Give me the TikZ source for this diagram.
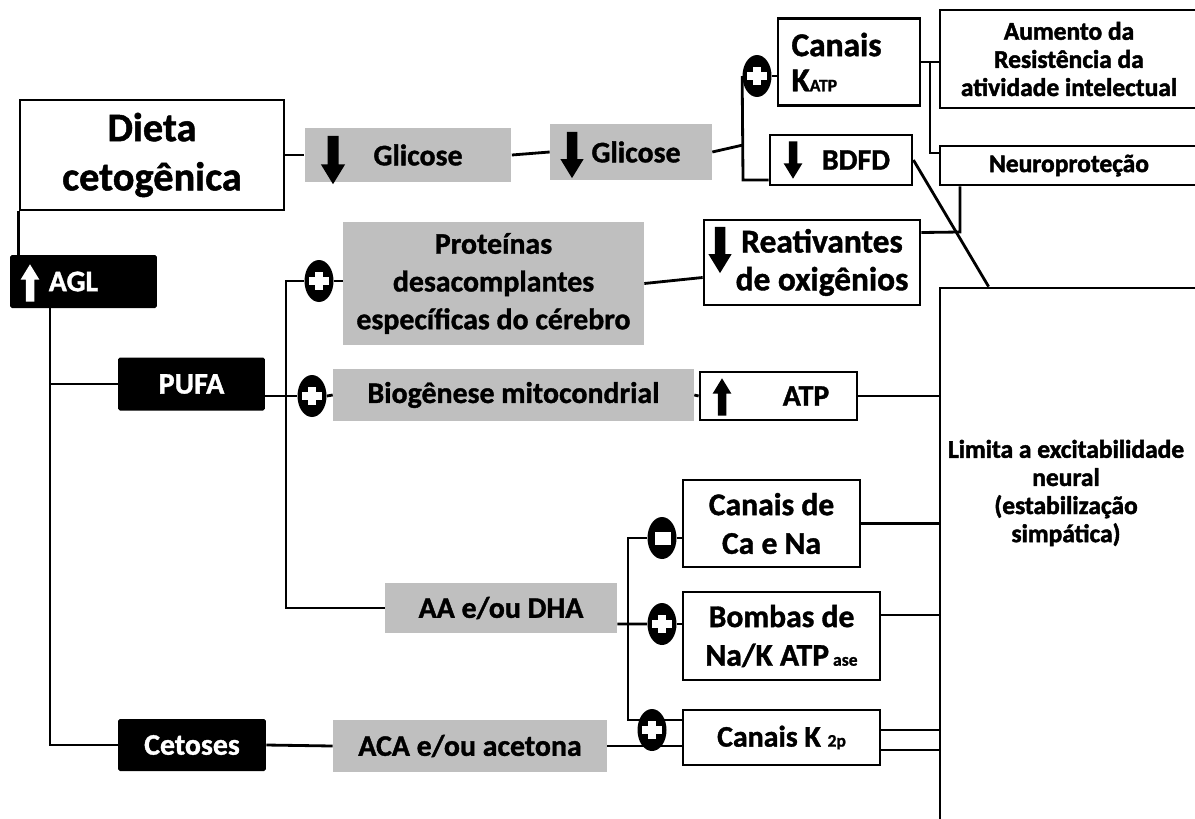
\documentclass[tikz,border=0pt]{standalone}
\usepackage{fontspec}
\setmainfont{Carlito}[BoldFeatures={FakeBold=1.2}]
\newfontfamily\heavyfont[BoldFeatures={FakeBold=1.8}]{Carlito}
\usetikzlibrary{positioning}
\usetikzlibrary{shapes.geometric}

\newcommand{\arrowdown}[3][1]{\fill[#3, shift={(#2)}, scale=#1] (0,0) ++(-5,-22) -- ++(10,0) -- ++(0,26) -- ++(6,0) -- ++(-11,18) -- ++(-11,-18) -- ++(6,0) -- cycle;}
\newcommand{\arrowup}[3][1]{\fill[#3, shift={(#2)}, scale=#1] (0,0) ++(-5,22) -- ++(10,0) -- ++(0,-26) -- ++(6,0) -- ++(-11,-18) -- ++(-11,18) -- ++(6,0) -- cycle;}

\tikzset{
  box/.style={draw, line width=1.6pt, fill=white, align=center, inner sep=0pt, font=\bfseries\fontsize{17}{21.5}\selectfont},
  greybox/.style={fill=gray!50, align=center, inner sep=0pt, font=\bfseries\fontsize{17}{21.5}\selectfont},
  blackbox/.style={fill=black, text=white, rounded corners=1pt, align=center, inner sep=0pt, font=\bfseries\fontsize{17}{21.5}\selectfont},
  smallbox/.style={box, font=\heavyfont\bfseries\fontsize{14.5}{16}\selectfont},
  link/.style={line width=1.6pt},
  sign/.style={ellipse, fill=black, minimum width=0.58cm, minimum height=0.84cm, inner sep=0pt},
  plus/.style={sign, path picture={
      \fill[white] ([shift={(-0.2cm,-0.08cm)}]path picture bounding box.center) rectangle ([shift={(0.2cm,0.08cm)}]path picture bounding box.center);
      \fill[white] ([shift={(-0.08cm,-0.18cm)}]path picture bounding box.center) rectangle ([shift={(0.08cm,0.18cm)}]path picture bounding box.center);}},
  minus/.style={sign, path picture={
      \fill[white] ([shift={(-0.14cm,-0.13cm)}]path picture bounding box.center) rectangle ([shift={(0.18cm,0.13cm)}]path picture bounding box.center);}},
}

\begin{document}
\begin{tikzpicture}[x=0.02cm, y=-0.02cm]
    \clip (0,0) rectangle (1195,818);

    % topo
    \node[box, font=\bfseries\fontsize{23}{28}\selectfont, minimum width=5.28cm, minimum height=2.2cm] (dieta) at (152,155) {Dieta\\cetogênica};
    \node[greybox, minimum width=4.14cm, minimum height=1.08cm] (gli1) at (408,155) {\hspace{0.4cm}Glicose};
    \node[greybox, minimum width=3.24cm, minimum height=1.12cm] (gli2) at (631,152) {\hspace{0.2cm}Glicose};
    \node[box, minimum width=2.84cm, minimum height=1.74cm, text width=2.3cm, align=left, font=\bfseries\fontsize{19}{20}\selectfont] (katp) at (849,62) {Canais\\K{\fontsize{10}{10}\selectfont ATP}};
    \node[box, minimum width=2.84cm, minimum height=1.0cm] (bdfd) at (841,160) {\hspace{0.6cm}BDFD};
    \node[smallbox, minimum width=5.16cm, minimum height=1.96cm] (aum) at (1069,59) {Aumento da\\Resistência da\\atividade intelectual};
    \node[smallbox, minimum width=5.16cm, minimum height=0.78cm] (neuro) at (1069,165.5) {Neuroproteção};

    % AGL, PUFA
    \node[blackbox, minimum width=2.94cm, minimum height=1.06cm] (agl) at (83.5,281.5) {AGL\hspace{0.4cm}};
    \node[greybox, minimum width=6.02cm, minimum height=2.46cm] (prot) at (493.5,283.5) {Proteínas\\desacomplantes\\específicas do cérebro};
    \node[box, minimum width=4.32cm, minimum height=1.7cm, font=\bfseries\fontsize{19}{21.5}\selectfont] (reat) at (812,262.5) {\hspace*{0.4cm}Reativantes\\\hspace*{0.4cm}de oxigênios};
    \node[blackbox, minimum width=2.94cm, minimum height=1.06cm] (pufa) at (191.5,384) {PUFA};
    \node[greybox, minimum width=7.22cm, minimum height=1.04cm] (bio) at (513.5,395) {Biogênese mitocondrial};
    \node[box, minimum width=3.14cm, minimum height=0.96cm] (atp) at (778.5,396) {\hspace{1.1cm}ATP};

    % limita
    \node[box, minimum width=5.16cm, minimum height=11.04cm] (lim) at (1069,564) {};
    \node[font=\heavyfont\bfseries\fontsize{14.5}{16}\selectfont, align=center] (limtxt) at (1066,493) {Limita a excitabilidade\\neural\\(estabilização\\simpática)};

    % canais
    \node[greybox, minimum width=4.64cm, minimum height=1.0cm] (aadha) at (501,608) {AA e/ou DHA};
    \node[box, minimum width=3.54cm, minimum height=1.74cm, font=\bfseries\fontsize{18}{22}\selectfont] (cana) at (771.5,523.5) {Canais de\\Ca e Na};
    \node[box, minimum width=3.94cm, minimum height=1.76cm, font=\bfseries\fontsize{18}{22}\selectfont] (bomb) at (781.5,636) {Bombas de\\Na/K ATP{\fontsize{10}{10}\selectfont\ ase}};
    \node[box, minimum width=3.94cm, minimum height=1.1cm] (k2p) at (781.5,737.5) {Canais K {\fontsize{10}{10}\selectfont 2p}};
    \node[blackbox, minimum width=2.96cm, minimum height=1.04cm] (cet) at (192,745) {Cetoses};
    \node[greybox, minimum width=5.48cm, minimum height=1.04cm] (aca) at (470,746) {ACA e/ou acetona};

    % sinais
    \node[plus] (sK) at (757,76) {};
    \node[plus] (sProt) at (319,281) {};
    \node[plus] (sBio) at (312,396) {};
    \node[minus] (sCa) at (662,538) {};
    \node[plus] (sBomb) at (662,624) {};
    \node[plus] (sK2p) at (652,730) {};

    \coordinate (jk) at (743,145);
    \coordinate (jb) at (743,180);
    \coordinate (jn) at (930,62);
    \coordinate (jr) at (960,232);
    \coordinate (ja) at (50,745);
    \coordinate (jp) at (286,608);
    \coordinate (jc) at (628,720);
    \coordinate (ao) at ([yshift=-0.32cm]aadha.east);
    \coordinate (bo) at ([yshift=0.42cm]bomb.east);
    \coordinate (ka) at ([yshift=0.15cm]k2p.east);
    \coordinate (kb) at ([yshift=-0.25cm]k2p.east);

    % ligacoes
    \draw[link] (dieta.east) -- (gli1.west);
    \draw[link] (gli1.east) -- (gli2.west);
    \draw[link] (gli2.east) -- (jk);
    \draw[link] (sK.west) -- (jb) -- (jb -| bdfd.west);
    \draw[link] (sK.east) -- (sK.east -| katp.west);
    \draw[link] (katp.east) -- (aum.west |- katp.east);
    \draw[link] (jn) |- ([yshift=0.25cm]neuro.west);
    \draw[link] ([yshift=0.6cm]reat.east) -- (jr) -- (jr |- neuro.south);
    \draw[link] (bdfd.east) -- ([xshift=1cm]lim.north west);
    \draw[link] (prot.east) -- ([yshift=-0.3cm]reat.west);

    \draw[link] (dieta.south west) -- (dieta.south west |- agl.north);
    \draw[link] (agl.south -| ja) -- (ja) -- (cet.west);
    \draw[link] (pufa.west -| ja) -- (pufa.west);
    \draw[link] (pufa.east |- sBio) -- (sBio.west);
    \draw[link] (sBio.east) -- (bio.west);
    \draw[link] (sProt.west) -| (jp) -- (aadha.west);
    \draw[link] (sProt.east) -- (sProt.east -| prot.west);
    \draw[link] (bio.east) -- (atp.west);
    \draw[link] (atp.east) -- (atp.east -| lim.west);

    \draw[link] (ao) -- (sBomb.west);
    \draw[link] (sBomb.east) -- (sBomb.east -| bomb.west);
    \draw[link] (sCa.west) -| (jc) -- (jc -| k2p.west);
    \draw[link] (sCa.east) -- (sCa.east -| cana.west);
    \draw[link] (cet.east) -- (aca.west);
    \draw[link] (aca.east) -- (aca.east -| k2p.west);
    \draw[link] (cana.east) -- (cana.east -| lim.west);
    \draw[link] (bo) -- (bo -| lim.west);
    \draw[link] (ka) -- (ka -| lim.west);
    \draw[link] (kb) -- (kb -| lim.west);

    % setas
    \arrowdown[1.1]{333,160}{black}
    \arrowdown[1.05]{572,155}{black}
    \arrowdown[0.85]{793,160}{black}
    \arrowdown[1.05]{720,250}{black}
    \arrowup[0.85]{722,397}{black}
    \arrowup[0.85]{30,283}{white}
\end{tikzpicture}
\end{document}
